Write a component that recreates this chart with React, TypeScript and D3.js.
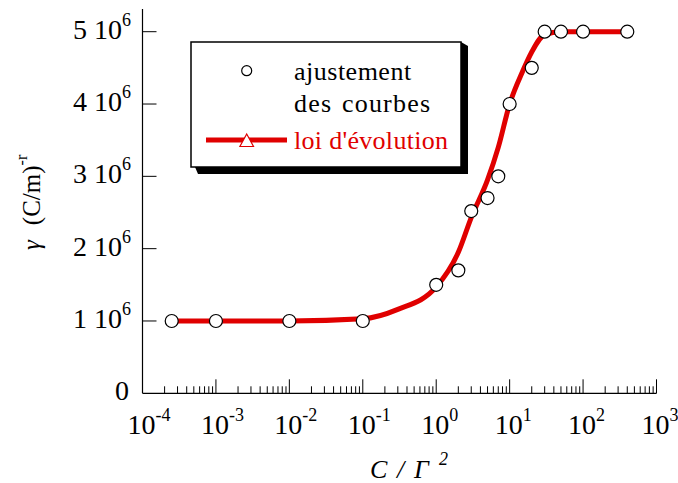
import React from "react";
import * as d3 from "d3";

const pointX = [2.5e-4, 1e-3, 1e-2, 1e-1, 1, 2, 3, 5, 7, 10, 20, 30, 50, 100, 400];
const pointY = [1.0e6, 1.0e6, 1.0e6, 1.0e6, 1.5e6, 1.7e6, 2.52e6, 2.7e6, 3.0e6, 4.0e6, 4.5e6, 5.0e6, 5.0e6, 5.0e6, 5.0e6];

const lawX = [2.5e-4, 1e-3, 1e-2, 1e-1, 0.3, 1, 2, 3, 5, 7, 10, 15, 20, 30, 50, 100, 400];
const lawY = [1.0e6, 1.0e6, 1.0e6, 1.03e6, 1.16e6, 1.47e6, 1.95e6, 2.43e6, 2.95e6, 3.4e6, 4.0e6, 4.45e6, 4.72e6, 4.96e6, 5.0e6, 5.0e6, 5.0e6];

const xTickExp = [-4, -3, -2, -1, 0, 1, 2, 3];
const yTicks = [0, 1e6, 2e6, 3e6, 4e6, 5e6];
const yTickMant = ["0", "1", "2", "3", "4", "5"];

const legendLabels = ["ajustement", "des courbes", "loi d'évolution"];

const FONT = "'Liberation Serif', 'Times New Roman', serif";
const RED = "#e00000";

export default function App() {
  const W = 678, H = 483;
  const x = d3.scaleLog().domain([1e-4, 1e3]).range([142.5, 656.5]);
  const y = d3.scaleLinear().domain([0, 5e6]).range([393.3, 31.7]);
  const yTop = 9;

  const minor: number[] = [];
  for (let e = -4; e < 3; e++) {
    for (let m = 2; m <= 9; m++) minor.push(m * Math.pow(10, e));
  }

  const line = d3
    .line<number>()
    .x((_, i) => x(lawX[i]))
    .y((d) => y(d))
    .curve(d3.curveMonotoneX);

  return (
    <svg width={W} height={H} style={{ position: "absolute", left: 0, top: 0, background: "#fff" }}>
      <rect x={0} y={0} width={W} height={H} fill="#fff" />
      {/* axes */}
      <line x1={x(1e-4)} x2={x(1e-4)} y1={y(0)} y2={yTop} stroke="#000" strokeWidth={1.2} />
      <line x1={x(1e-4)} x2={x(1e3)} y1={y(0)} y2={y(0)} stroke="#000" strokeWidth={1.2} />
      {/* x minor ticks */}
      {minor.map((v, i) => (
        <line key={"mn" + i} x1={x(v)} x2={x(v)} y1={y(0)} y2={y(0) - 7} stroke="#000" strokeWidth={1} />
      ))}
      {xTickExp.map((e) => {
        const xv = x(Math.pow(10, e));
        return (
          <g key={"xt" + e}>
            {e > -4 && <line x1={xv} x2={xv} y1={y(0)} y2={y(0) - 14} stroke="#000" strokeWidth={1} />}
            <text x={xv - 15} y={434} fontFamily={FONT} fontSize={28} fill="#000">
              10
              <tspan dy={-13} fontSize={18}>{String(e)}</tspan>
            </text>
          </g>
        );
      })}
      {yTicks.map((v, i) => (
        <g key={"yt" + i}>
          {i > 0 && <line x1={x(1e-4)} x2={x(1e-4) + 14} y1={y(v)} y2={y(v)} stroke="#000" strokeWidth={1} />}
          {i === 0 ? (
            <text x={129} y={y(v) + 7} textAnchor="end" fontFamily={FONT} fontSize={28} fill="#000">0</text>
          ) : (
            <text x={131} y={y(v) + 7} textAnchor="end" fontFamily={FONT} fontSize={28} fill="#000">
              {yTickMant[i]} 10
              <tspan dy={-13} fontSize={18}>6</tspan>
            </text>
          )}
        </g>
      ))}
      {/* y label */}
      <text transform="translate(40,250) rotate(-90)" fontFamily={FONT} fontSize={25} fill="#000">
        <tspan fontStyle="italic">γ</tspan>
        <tspan dx={15}>(C/m)</tspan>
        <tspan dy={-13} fontSize={16}>-r</tspan>
      </text>
      {/* x label */}
      <text y={478} fontFamily={FONT} fontSize={26} fontStyle="italic" fill="#000">
        <tspan x={370}>C</tspan>
        <tspan x={397}>/</tspan>
        <tspan x={414}>Γ</tspan>
        <tspan x={439} dy={-13} fontSize={18}>2</tspan>
      </text>
      {/* law curve */}
      <path d={line(lawY) || ""} fill="none" stroke={RED} strokeWidth={5} strokeLinejoin="round" />
      {pointX.map((v, i) => (
        <circle key={"p" + i} cx={x(v)} cy={y(pointY[i])} r={6.5} fill="#fff" stroke="#000" strokeWidth={1.2} />
      ))}
      {/* legend */}
      <polygon points="195,167 198,174 468,174 468,46 461,42 461,167" fill="#000" />
      <rect x={191} y={42} width={270} height={125} fill="#fff" stroke="#000" strokeWidth={1.5} />
      <circle cx={246.7} cy={70.7} r={5} fill="#fff" stroke="#000" strokeWidth={1.2} />
      <text x={294} y={80} fontFamily={FONT} fontSize={26} letterSpacing={0.5} fill="#000">{legendLabels[0]}</text>
      <text x={294} y={111.5} fontFamily={FONT} fontSize={26} letterSpacing={1.2} wordSpacing={2} fill="#000">{legendLabels[1]}</text>
      <line x1={206} x2={287} y1={140} y2={140} stroke={RED} strokeWidth={5} />
      <polygon points="246.7,134 253.5,146.5 239.9,146.5" fill="#fff" stroke={RED} strokeWidth={1.2} />
      <text x={294} y={149} fontFamily={FONT} fontSize={26} letterSpacing={0.3} fill={RED}>{legendLabels[2]}</text>
    </svg>
  );
}
